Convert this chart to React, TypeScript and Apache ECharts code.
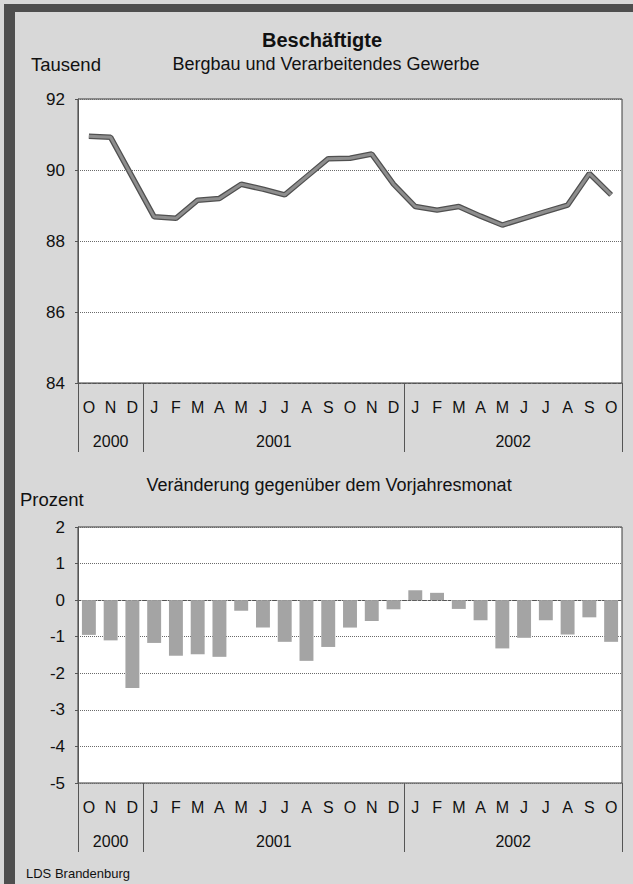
import React, { useEffect, useRef } from "react";
import * as echarts from "echarts";

// ---- data ----
const months = ["O", "N", "D", "J", "F", "M", "A", "M", "J", "J", "A", "S", "O", "N", "D", "J", "F", "M", "A", "M", "J", "J", "A", "S", "O"];
const years = ["2000", "2001", "2002"];
const monthsPerYear = [3, 12, 10];
// Beschäftigte, Tausend
const employed = [90.95, 90.92, 89.8, 88.68, 88.64, 89.15, 89.2, 89.6, 89.46, 89.3, 89.81, 90.32, 90.33, 90.45, 89.6, 88.97, 88.87, 88.97, 88.7, 88.45, 88.64, 88.83, 89.01, 89.9, 89.3];
// Veränderung gegenüber dem Vorjahresmonat, Prozent
const change = [-0.95, -1.1, -2.4, -1.17, -1.52, -1.48, -1.55, -0.29, -0.75, -1.14, -1.66, -1.28, -0.75, -0.57, -0.25, 0.27, 0.2, -0.24, -0.55, -1.32, -1.03, -0.55, -0.94, -0.47, -1.14];
const topAxis = { min: 84, max: 92, interval: 2 };
const bottomAxis = { min: -5, max: 2, interval: 1 };

const FONT = "'Liberation Sans', Arial, sans-serif";

export default function App() {
  const ref = useRef<HTMLDivElement>(null);

  useEffect(() => {
    if (!ref.current) return;
    const chart = echarts.init(ref.current, undefined, { renderer: "svg" });

    const boundaries: number[] = [0];
    monthsPerYear.forEach((n) => boundaries.push(boundaries[boundaries.length - 1] + n));
    const centers = monthsPerYear.map((n, i) => boundaries[i] + n / 2);
    const total = boundaries[boundaries.length - 1];

    const makeX = (gridIndex: number) => [
      {
        type: "category",
        gridIndex,
        data: months,
        position: "bottom",
        boundaryGap: true,
        axisLine: { show: true, lineStyle: { color: "#555", type: [3, 2] } },
        axisTick: { show: false },
        splitLine: { show: false },
        axisLabel: { interval: 0, margin: 16, fontSize: 16, color: "#111", fontFamily: FONT },
      },
      {
        type: "value",
        gridIndex,
        min: 0,
        max: total,
        position: "bottom",
        offset: 0,
        axisLine: { show: false },
        splitLine: { show: false },
        axisTick: { show: true, customValues: boundaries, length: 69, lineStyle: { color: "#555", width: 1 } },
        axisLabel: {
          customValues: centers,
          margin: 50,
          fontSize: 16,
          color: "#111",
          fontFamily: FONT,
          formatter: (v: number) => {
            const i = centers.findIndex((c) => Math.abs(c - v) < 1e-6);
            return i >= 0 ? years[i] : "";
          },
        },
      },
    ];

    const makeY = (gridIndex: number, ax: { min: number; max: number; interval: number }) => ({
      type: "value",
      gridIndex,
      min: ax.min,
      max: ax.max,
      interval: ax.interval,
      axisLine: { show: true, lineStyle: { color: "#555" } },
      axisTick: { show: true, length: 3, lineStyle: { color: "#555" } },
      axisLabel: { margin: 13, fontSize: 17, color: "#111", fontFamily: FONT },
      splitLine: { show: true, lineStyle: { color: "#6a6a6a", type: "dotted", width: 1 } },
    });

    const txt = (text: string, x: number, y: number, size: number, align = "left", bold = false) => ({
      type: "text",
      x,
      y,
      style: {
        text,
        align,
        verticalAlign: "middle",
        fontSize: size,
        fontWeight: bold ? "bold" : "normal",
        fontFamily: FONT,
        fill: "#111",
      },
    });

    chart.setOption({
      animation: false,
      backgroundColor: "#d8d8d8",
      grid: [
        { left: 78, right: 11, top: 99, height: 284, show: true, backgroundColor: "#ffffff", borderColor: "#3a3a3a", borderWidth: 1, containLabel: false },
        { left: 78, right: 11, top: 527, height: 256, show: true, backgroundColor: "#ffffff", borderColor: "#3a3a3a", borderWidth: 1, containLabel: false },
      ],
      xAxis: [...makeX(0), ...makeX(1)],
      yAxis: [makeY(0, topAxis), makeY(1, bottomAxis)],
      series: [
        {
          type: "line",
          xAxisIndex: 0,
          yAxisIndex: 0,
          data: employed,
          symbol: "none",
          lineStyle: { color: "#505050", width: 5.5 },
          silent: true,
        },
        {
          type: "line",
          xAxisIndex: 0,
          yAxisIndex: 0,
          data: employed,
          symbol: "none",
          lineStyle: { color: "#8e8e8e", width: 3 },
          silent: true,
        },
        {
          type: "bar",
          xAxisIndex: 2,
          yAxisIndex: 1,
          data: change,
          barWidth: "64%",
          itemStyle: { color: "#a4a4a4" },
          silent: true,
        },
      ],
      graphic: [
        { type: "rect", shape: { x: 4, y: 4, width: 11, height: 880 }, style: { fill: "#4e4e4e" } },
        { type: "rect", shape: { x: 4, y: 4, width: 629, height: 8 }, style: { fill: "#4e4e4e" } },
        txt("Beschäftigte", 322, 40, 20, "center", true),
        txt("Tausend", 31, 64, 18.5),
        txt("Bergbau und Verarbeitendes Gewerbe", 326, 64, 18, "center"),
        txt("Veränderung gegenüber dem Vorjahresmonat", 329, 485, 18, "center"),
        txt("Prozent", 20, 499, 18.5),
        txt("LDS Brandenburg", 26, 873, 13),
      ],
    });

    return () => chart.dispose();
  }, []);

  return <div ref={ref} style={{ position: "absolute", left: 0, top: 0, width: 633, height: 884 }} />;
}
